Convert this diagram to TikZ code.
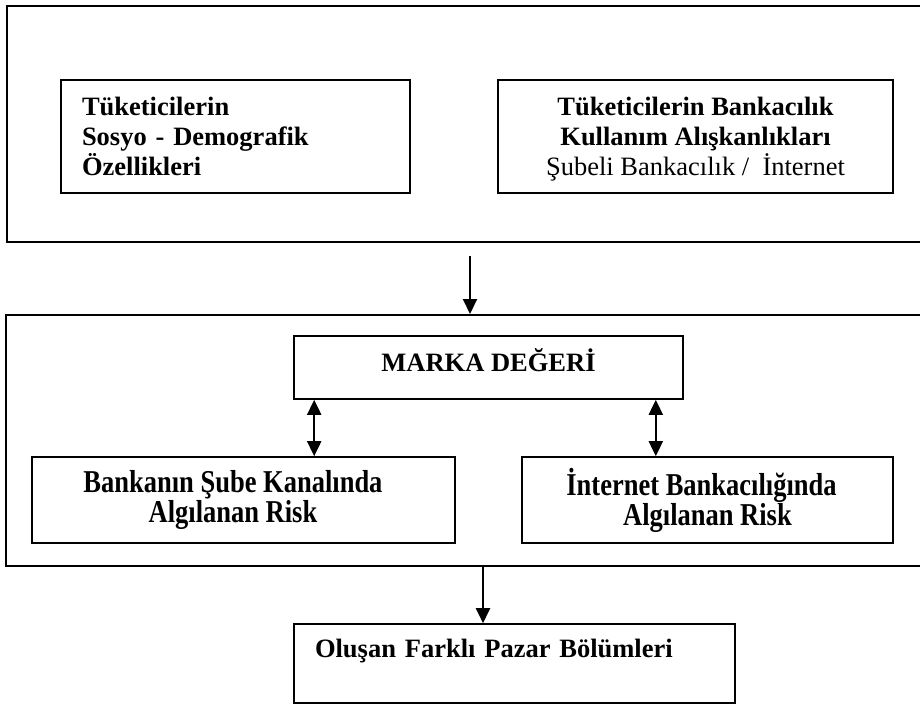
\documentclass[tikz,border=0pt]{standalone}
\usepackage{fontspec}
\setmainfont{Liberation Serif}
\usepackage{graphicx}
\usetikzlibrary{arrows.meta,positioning}
\tikzset{
  frame/.style={draw,line width=1.6pt,inner sep=0pt,anchor=north west},
  box/.style={draw,line width=1.6pt,inner sep=0pt,font=\fontsize{26.5}{30}\selectfont\bfseries},
}
\newcommand{\tallrow}[1]{\scalebox{1}[1.2]{#1}}

\begin{document}
\begin{tikzpicture}[x=1pt,y=-1pt,>={Triangle[width=14pt,length=15pt]},line width=2pt]
\useasboundingbox (0,0) rectangle (920,704);
% outer frames, open on the right
\node[frame,minimum width=919,minimum height=236] (top) at (6,5) {};
\node[frame,minimum width=920,minimum height=251] (low) at (5,314) {};
% upper part
\node[box,minimum width=349,minimum height=113,align=left,text width=307] (demo) at (235.5,136.5)
  {Tüketicilerin\\Sosyo - Demografik\\Özellikleri};
\node[box,minimum width=395,minimum height=113,align=center,text depth=0pt] (habit) at (695.5,136.5)
  {Tüketicilerin Bankacılık\\Kullanım Alışkanlıkları\\\mdseries Şubeli Bankacılık /\ \ İnternet};
% lower part
\node[box,minimum width=389,minimum height=63,text height=18pt,text depth=11pt] (brand) at (488.5,367.5) {MARKA DEĞERİ};
\node[box,minimum width=423,minimum height=86,align=center,font=\fontsize{26.5}{27}\selectfont\bfseries] (branch) at (243.5,500)
  {\tallrow{Bankanın Şube Kanalında\hspace{21pt}}\\\tallrow{Algılanan Risk\hspace{21pt}}};
\node[box,minimum width=371,minimum height=86,align=center,font=\fontsize{26.5}{27}\selectfont\bfseries] (online) at (707.5,500)
  {\tallrow{İnternet Bankacılığında\hspace{12pt}}\\\tallrow{Algılanan Risk}};
\node[box,minimum width=441,minimum height=79,align=left,text width=399] (segment) at (514.5,663.5)
  {Oluşan Farklı Pazar Bölümleri\\\mbox{}};
% connectors
\coordinate (a1) at (470,256);
\draw[->] (a1) -- (a1 |- low.north);
\path (brand.south west) ++(21,0) coordinate (la);
\path (brand.south east) ++(-28,0) coordinate (ra);
\draw[<->] (la) -- (la |- branch.north);
\draw[<->] (ra) -- (ra |- online.north);
\path (low.south west) ++(478,0) coordinate (b1);
\draw[->] (b1) -- (b1 |- segment.north);
\end{tikzpicture}
\end{document}
